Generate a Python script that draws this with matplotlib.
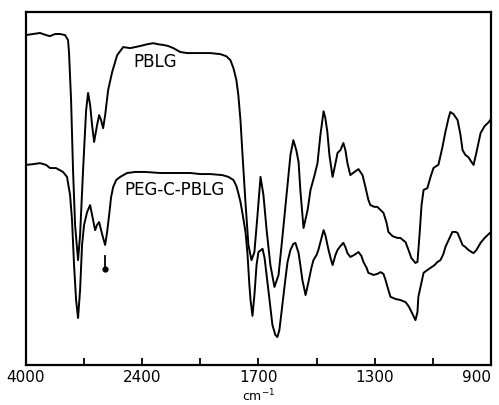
import numpy as np
import matplotlib.pyplot as plt

# wavenumber scale of the chart paper (ticks equally spaced, scale changes)
tick_wn = [4000, 3200, 2400, 2000, 1700, 1500, 1300, 1100, 900]
label_wn = [4000, 2400, 1700, 1300, 900]
minor_wn = [3200, 2000, 1500, 1100]

pblg_wn = [4000, 3903, 3807, 3724, 3669, 3600, 3531, 3462, 3421, 3407, 3379, 3352, 3324, 3283,
           3255, 3214, 3172, 3145, 3117, 3090, 3062, 3021, 2993, 2966, 2938, 2910, 2869, 2814,
           2745, 2662, 2565, 2428, 2366, 2324, 2290, 2255, 2221, 2186, 2138, 2090, 2000, 1948,
           1897, 1866, 1845, 1829, 1814, 1804, 1793, 1783, 1767, 1752, 1736, 1721, 1705, 1693,
           1683, 1672, 1659, 1645, 1631, 1617, 1600, 1590, 1580, 1570, 1562, 1556, 1545, 1531,
           1521, 1507, 1497, 1487, 1476, 1470, 1463, 1456, 1445, 1435, 1428, 1418, 1408, 1401,
           1394, 1384, 1370, 1356, 1342, 1332, 1322, 1315, 1301, 1291, 1280, 1270, 1260, 1253,
           1239, 1222, 1212, 1194, 1184, 1174, 1160, 1153, 1146, 1139, 1132, 1119, 1108, 1098,
           1088, 1081, 1067, 1057, 1046, 1040, 1029, 1015, 1005, 998, 988, 978, 967, 960, 950,
           936, 922, 908, 900]
pblg_t = [93.5, 93.8, 94.1, 93.5, 93.2, 93.8, 93.8, 93.5, 92.1, 88.4, 75.1, 55.2, 39.7, 29.7,
          36.8, 55.2, 72.2, 77.1, 73.7, 68.0, 63.2, 68.0, 70.8, 69.4, 67.1, 70.8, 77.9, 83.0,
          87.8, 90.1, 89.8, 90.4, 90.9, 91.2, 90.9, 90.7, 90.4, 89.8, 88.7, 88.4, 88.4, 88.4,
          88.1, 87.5, 86.4, 84.1, 80.7, 76.5, 69.4, 60.1, 45.9, 34.0, 29.7, 32.0, 42.5, 53.3,
          48.2, 38.2, 28.3, 22.1, 25.5, 36.8, 51.0, 59.5, 63.7, 60.9, 57.5, 49.6, 38.8, 43.9,
          49.6, 53.8, 57.2, 65.2, 71.9, 70.0, 66.0, 59.5, 53.3, 57.2, 60.1, 60.9, 62.9, 60.9,
          57.2, 53.8, 54.7, 55.5, 53.8, 50.4, 46.8, 45.3, 44.8, 44.8, 43.9, 43.1, 40.5, 37.7,
          36.5, 36.0, 36.0, 34.8, 32.6, 30.3, 28.9, 29.2, 36.8, 45.3, 49.6, 50.1, 53.3, 55.8,
          56.4, 56.7, 61.8, 66.0, 70.0, 71.7, 71.1, 69.4, 65.2, 60.9, 59.5, 58.9, 57.5, 56.7,
          60.3, 65.7, 67.7, 68.8, 69.7]

peg_wn = [4000, 3903, 3807, 3724, 3669, 3586, 3490, 3435, 3393, 3366, 3338, 3310, 3283, 3255,
          3228, 3200, 3159, 3117, 3076, 3048, 3021, 2993, 2966, 2938, 2910, 2883, 2855, 2828,
          2800, 2759, 2703, 2607, 2497, 2379, 2276, 2172, 2069, 2000, 1948, 1886, 1855, 1829,
          1814, 1804, 1793, 1783, 1767, 1757, 1747, 1741, 1731, 1721, 1710, 1700, 1686, 1679,
          1672, 1662, 1652, 1642, 1635, 1628, 1617, 1607, 1600, 1590, 1580, 1573, 1562, 1556,
          1549, 1538, 1528, 1518, 1511, 1500, 1494, 1483, 1476, 1470, 1459, 1452, 1445, 1435,
          1428, 1418, 1408, 1401, 1394, 1384, 1370, 1356, 1346, 1339, 1328, 1322, 1304, 1291,
          1280, 1270, 1263, 1253, 1246, 1229, 1212, 1194, 1184, 1177, 1167, 1160, 1153, 1150,
          1139, 1132, 1119, 1108, 1094, 1084, 1074, 1064, 1057, 1046, 1033, 1022, 1015, 1005,
          998, 988, 978, 967, 960, 950, 936, 922, 908, 900]
peg_t = [56.7, 56.9, 57.2, 56.7, 55.8, 55.8, 54.7, 53.3, 48.2, 41.1, 28.3, 18.4, 13.3, 21.2,
         34.0, 39.7, 43.3, 45.3, 41.1, 38.2, 39.7, 40.5, 38.2, 36.0, 34.0, 37.7, 42.5, 47.6,
         50.4, 52.4, 53.3, 54.4, 54.7, 54.7, 54.4, 54.4, 54.4, 54.1, 54.1, 53.8, 53.3, 52.4,
         50.7, 48.7, 46.2, 43.1, 37.7, 31.7, 22.7, 18.4, 13.9, 19.8, 28.3, 32.0, 32.9, 30.3,
         25.5, 18.4, 11.3, 8.5, 7.9, 9.9, 17.6, 24.6, 29.2, 32.6, 34.3, 34.6, 31.7, 28.3,
         24.1, 19.8, 23.5, 27.5, 29.7, 31.2, 32.6, 36.0, 38.2, 36.8, 32.6, 30.3, 28.3, 31.2,
         32.6, 33.7, 34.6, 33.4, 31.7, 30.6, 31.2, 32.0, 30.9, 29.2, 27.5, 26.1, 25.5, 25.8,
         26.3, 25.8, 24.1, 21.2, 19.3, 18.7, 18.4, 17.8, 16.7, 15.6, 13.9, 12.7, 15.0, 19.3,
         23.5, 26.1, 26.9, 27.5, 28.3, 29.2, 29.7, 31.4, 33.4, 35.4, 37.7, 37.7, 37.4, 35.4,
         34.0, 33.4, 32.6, 32.0, 31.7, 32.6, 34.6, 36.0, 37.1, 37.7]

# marked band (arrow under the copolymer trace)
arrow_wn = 2910
arrow_t = [31.0, 27.6]

asc_wn = tick_wn[::-1]
pos = list(range(len(tick_wn)))


def forward(w):
    return np.interp(w, asc_wn, pos)


def inverse(p):
    return np.interp(p, pos, asc_wn)


fig = plt.figure(figsize=(4.99, 4.05), dpi=100)
ax = fig.add_axes([0.052, 0.099, 0.932, 0.871])
ax.set_xscale('function', functions=(forward, inverse))
ax.set_xlim(4000, 900)
ax.set_ylim(0, 100)

ax.plot(pblg_wn, pblg_t, color='black', lw=1.4)
ax.plot(peg_wn, peg_t, color='black', lw=1.4)

ax.plot([arrow_wn, arrow_wn], arrow_t, color='black', lw=1.3)
ax.plot(arrow_wn, arrow_t[1] - 0.4, marker='o', ms=3.5, color='black')

ax.text(2310, 85.8, 'PBLG', ha='center', va='center', fontsize=12)
ax.text(2179, 49.6, 'PEG-C-PBLG', ha='center', va='center', fontsize=12)

ax.set_xticks(label_wn)
ax.set_xticklabels([str(w) for w in label_wn], fontsize=11)
ax.get_xticklabels()[-1].set_horizontalalignment('right')
ax.get_xticklabels()[-1].set_x(0)
ax.set_xticks(minor_wn, minor=True)
ax.tick_params(axis='x', which='both', direction='in', length=5, width=1.3, pad=4, top=False)
ax.set_yticks([])
for s in ax.spines.values():
    s.set_linewidth(1.6)

ax.text(1700, -8.9, 'cm$^{-1}$', ha='center', va='center', fontsize=9)

fig.savefig('out.png', dpi=100)
